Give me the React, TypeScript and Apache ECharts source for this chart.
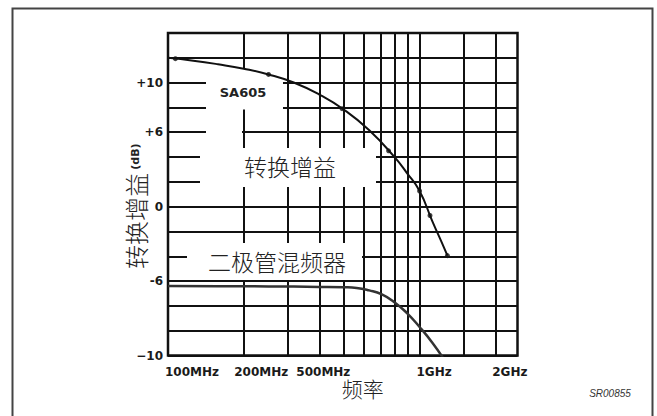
import React, { useEffect, useRef } from "react";
import * as echarts from "echarts";

// Frequency grid (MHz) and tick labels
const xGridValues = [100, 200, 300, 400, 500, 600, 700, 800, 900, 1000, 1500, 2000];
const xTickValues = [100, 200, 500, 1000, 2000];
const xTickLabels = ["100MHz", "200MHz", "500MHz", "1GHz", "2GHz"];

// Gain ticks (dB) and labels
const yTickValues = [10, 6, 0, -6, -12];
const yTickLabels = ["+10", "+6", "0", "-6", "\u221210"];

// SA605 conversion gain curve (MHz, dB)
const sa605Freq = [100, 126, 158, 200, 251, 316, 398, 501, 631, 794, 891, 1000, 1122, 1259, 1290];
const sa605Gain = [12.0, 11.77, 11.48, 11.12, 10.66, 10.01, 9.06, 7.81, 6.16, 4.01, 2.71, 1.26, -1.14, -3.44, -3.95];
// measured points on SA605 curve
const sa605MarkFreq = [107, 251, 492, 753, 1000, 1100, 1290];
const sa605MarkGain = [11.93, 10.66, 7.9, 4.5, 1.26, -0.71, -3.95];

// Diode mixer curve (MHz, dB)
const diodeFreq = [100, 158, 251, 398, 501, 562, 631, 708, 794, 891, 1000, 1122, 1259];
const diodeGain = [-6.4, -6.41, -6.43, -6.47, -6.5, -6.55, -6.75, -7.08, -7.7, -8.58, -9.7, -10.95, -12.4];

const cjk = "'Noto Sans CJK SC', 'Noto Sans CJK JP', sans-serif";
const sans = "'DejaVu Sans', 'Liberation Sans', sans-serif";

const xPad = [
  [0, 0, 0, 48],
  [0, 0, 0, 35],
  [0, 41, 0, 0],
  [0, 0, 0, 29],
  [0, 0, 0, 29],
];

export default function App() {
  const ref = useRef<HTMLDivElement>(null);
  useEffect(() => {
    const chart = echarts.init(ref.current!, null, { renderer: "svg" });
    const rich: any = {};
    xPad.forEach((p, i) => {
      rich["t" + i] = {
        padding: p,
        fontFamily: sans,
        fontWeight: "bold",
        fontSize: 12,
        color: "#1a1a1a",
      };
    });
    const option: any = {
      animation: false,
      backgroundColor: "#fff",
      grid: {
        left: 168,
        right: 139.5,
        top: 33,
        bottom: 60.5,
        show: true,
        borderColor: "#111",
        borderWidth: 2.5,
        backgroundColor: "transparent",
      },
      xAxis: {
        type: "log",
        logBase: 10,
        min: 100,
        max: 2450,
        name: "频率",
        nameLocation: "middle",
        nameGap: 22,
        nameMoveOverlap: false,
        nameTextStyle: {
          fontFamily: cjk,
          fontSize: 21,
          fontWeight: 300,
          color: "#222",
          padding: [0, 0, 0, 40],
        },
        axisLine: { show: false },
        axisTick: { show: false, customValues: xGridValues },
        splitLine: { show: true, lineStyle: { color: "#111", width: 2 } },
        minorSplitLine: { show: false },
        axisLabel: {
          customValues: xTickValues,
          showMinLabel: true,
          showMaxLabel: true,
          margin: 10,
          formatter: (v: number) => {
            const i = xTickValues.findIndex((t) => Math.abs(t - v) < 1e-6 * t);
            return i >= 0 ? `{t${i}|${xTickLabels[i]}}` : "";
          },
          rich,
        },
      },
      yAxis: {
        type: "value",
        min: -12,
        max: 14,
        interval: 2,
        name: "{zh|转换增益} {en|(dB)}",
        nameLocation: "middle",
        nameRotate: 90,
        nameGap: 21,
        nameMoveOverlap: false,
        nameTextStyle: {
          padding: [0, 24, 0, 0],
          rich: {
            zh: { fontFamily: cjk, fontSize: 24, fontWeight: 300, color: "#222" },
            en: { fontFamily: sans, fontSize: 11, fontWeight: "bold", color: "#222" },
          },
        },
        axisLine: { show: false },
        axisTick: { show: false },
        splitLine: { show: true, lineStyle: { color: "#111", width: 2 } },
        axisLabel: {
          margin: 5,
          fontFamily: sans,
          fontWeight: "bold",
          fontSize: 12,
          color: "#1a1a1a",
          showMinLabel: true,
          showMaxLabel: true,
          formatter: (v: number) => {
            const i = yTickValues.indexOf(v);
            return i >= 0 ? yTickLabels[i] : "";
          },
        },
      },
      series: [
        {
          type: "line",
          name: "SA605",
          data: sa605Freq.map((f, i) => [f, sa605Gain[i]]),
          smooth: 0.5,
          symbol: "none",
          lineStyle: { color: "#111", width: 2 },
          z: 3,
        },
        {
          type: "scatter",
          data: sa605MarkFreq.map((f, i) => [f, sa605MarkGain[i]]),
          symbol: "circle",
          symbolSize: 5,
          itemStyle: { color: "#111" },
          z: 4,
        },
        {
          type: "line",
          name: "二极管混频器",
          data: diodeFreq.map((f, i) => [f, diodeGain[i]]),
          smooth: 0.5,
          symbol: "none",
          lineStyle: { color: "#333", width: 2.5 },
          z: 3,
        },
      ],
      graphic: [
        { type: "rect", z: 1, silent: true, shape: { x: 206, y: 69, width: 77, height: 40.5 }, style: { fill: "#fff" } },
        { type: "rect", z: 1, silent: true, shape: { x: 206, y: 108, width: 36, height: 41 }, style: { fill: "#fff" } },
        { type: "rect", z: 1, silent: true, shape: { x: 200, y: 148, width: 176, height: 39 }, style: { fill: "#fff" } },
        { type: "rect", z: 1, silent: true, shape: { x: 187, y: 243, width: 175, height: 37 }, style: { fill: "#fff" } },
        {
          type: "text", z: 5, x: 243, y: 92,
          style: { text: "SA605", fontFamily: sans, fontWeight: "bold", fontSize: 13, fill: "#222", align: "center", verticalAlign: "middle" },
        },
        {
          type: "text", z: 5, x: 290, y: 166,
          style: { text: "转换增益", fontFamily: cjk, fontWeight: 300, fontSize: 23, fill: "#222", align: "center", verticalAlign: "middle" },
        },
        {
          type: "text", z: 5, x: 277, y: 261,
          style: { text: "二极管混频器", fontFamily: cjk, fontWeight: 300, fontSize: 23, fill: "#222", align: "center", verticalAlign: "middle" },
        },
        {
          type: "text", z: 5, x: 610, y: 393,
          style: { text: "SR00855", fontFamily: "'Liberation Sans', Arial, sans-serif", fontStyle: "italic", fontSize: 10, fill: "#333", align: "center", verticalAlign: "middle" },
        },
        {
          type: "rect", z: 5, silent: true,
          shape: { x: 12.5, y: 8.5, width: 640, height: 420 },
          style: { fill: "none", stroke: "#444", lineWidth: 2 },
        },
      ],
    };
    chart.setOption(option);
    return () => chart.dispose();
  }, []);
  return (
    <div
      ref={ref}
      style={{ position: "absolute", left: 0, top: 0, width: 657, height: 416, background: "#fff" }}
    />
  );
}
